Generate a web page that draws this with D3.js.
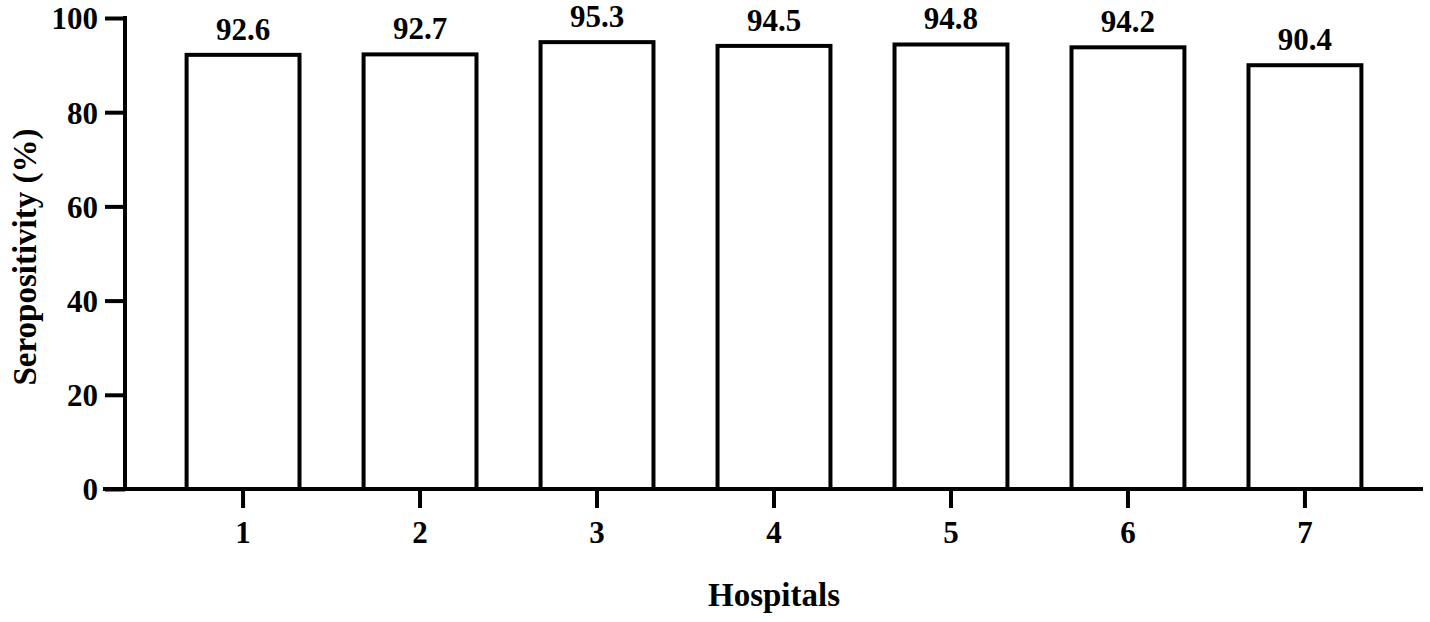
<!DOCTYPE html>
<html><head><meta charset="utf-8">
<script src="https://cdn.jsdelivr.net/npm/d3@7"></script>
<style>body{margin:0;background:#fff}svg{display:block}text{font-family:"Liberation Serif","Times New Roman",serif;font-weight:bold;fill:#000}</style>
</head><body><svg id="c" width="1430" height="622"></svg>
<script>
const categories = ["1","2","3","4","5","6","7"];
const values = [92.6, 92.7, 95.3, 94.5, 94.8, 94.2, 90.4];
const yTicks = [0, 20, 40, 60, 80, 100];
const xTitle = "Hospitals";
const yTitle = "Seropositivity (%)";

const svg = d3.select("#c");
const x0 = 125, x1 = 1423, yTop = 18, yBot = 489;
const x = d3.scaleBand().domain(categories).range([x0, x1]).paddingInner(0.362).paddingOuter(0.348);
const y = d3.scaleLinear().domain([0, 100]).range([yBot, yTop]);

// bars (stroke drawn inside the bar outline)
svg.append("g").selectAll("rect").data(values).join("rect")
  .attr("x", (d,i) => x(categories[i]))
  .attr("y", d => y(d) + 2)
  .attr("width", x.bandwidth())
  .attr("height", d => y(0) - y(d) - 2)
  .attr("fill", "#fff").attr("stroke", "#000").attr("stroke-width", 4);

// value labels
svg.append("g").selectAll("text").data(values).join("text")
  .attr("x", (d,i) => x(categories[i]) + x.bandwidth()/2)
  .attr("y", d => y(d) - 13)
  .attr("text-anchor", "middle").attr("font-size", 31)
  .text(d => d.toFixed(1));

// y axis
const ya = svg.append("g").attr("transform", `translate(${x0},0)`)
  .call(d3.axisLeft(y).tickValues(yTicks).tickSize(20).tickPadding(7).tickSizeOuter(0));
ya.select(".domain").attr("stroke-width", 4).attr("d", `M0,${yBot+2}V${yTop-2}`);
ya.selectAll(".tick line").attr("stroke-width", 4);
ya.selectAll(".tick text").attr("font-size", 31).attr("dy", "0.35em");

// x axis
const xa = svg.append("g").attr("transform", `translate(0,${yBot})`)
  .call(d3.axisBottom(x).tickSize(19).tickPadding(13).tickSizeOuter(0));
xa.select(".domain").attr("stroke-width", 4).attr("d", `M${x0-22},0H${x1}`);
xa.selectAll(".tick line").attr("stroke-width", 4);
xa.selectAll(".tick text").attr("font-size", 31);
svg.selectAll(".domain, .tick line").attr("stroke", "#000");
svg.selectAll("g[font-family]").attr("font-family", null);

// titles
svg.append("text").attr("x", (x0 + x1)/2).attr("y", 606)
  .attr("text-anchor", "middle").attr("font-size", 33).text(xTitle);
svg.append("text").attr("transform", "translate(36,257) rotate(-90)")
  .attr("text-anchor", "middle").attr("font-size", 33).text(yTitle);
</script></body></html>
